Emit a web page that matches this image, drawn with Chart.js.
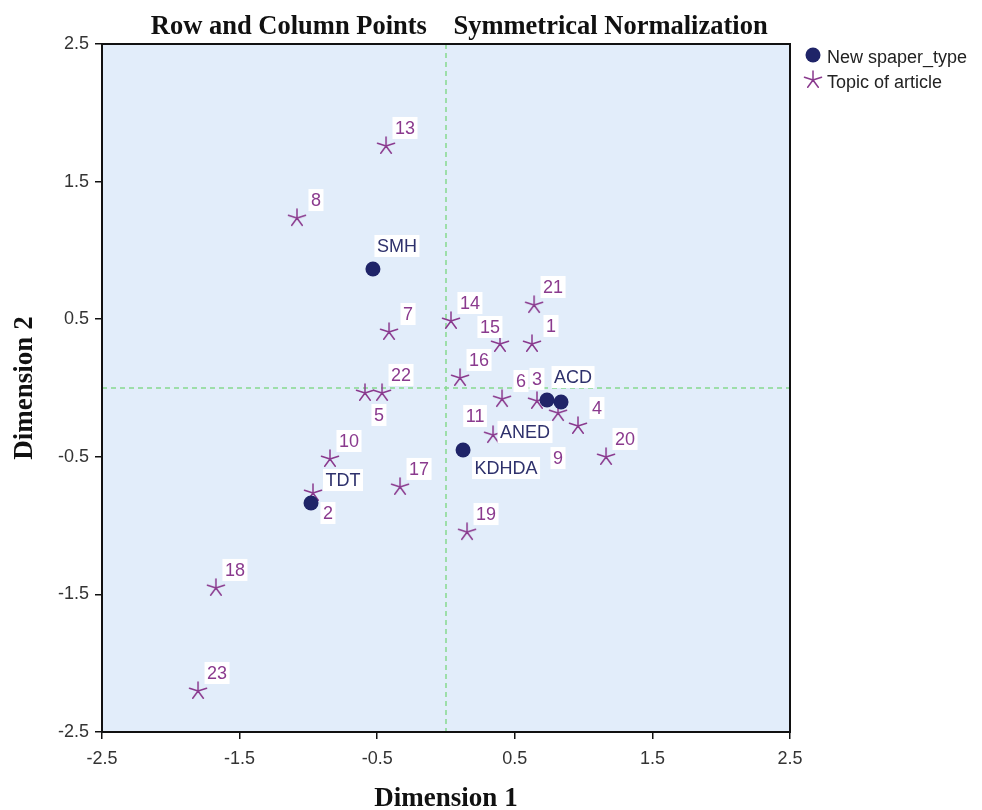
<!DOCTYPE html>
<html>
<head>
<meta charset="utf-8">
<script src="https://cdn.jsdelivr.net/npm/chart.js@4.4.1/dist/chart.umd.min.js"></script>
<style>
  html, body { margin: 0; padding: 0; background: #fff; }
  #wrap { width: 982px; height: 810px; }
</style>
</head>
<body>
<div id="wrap"><canvas id="plot" width="982" height="810"></canvas></div>
<script>
// axis ticks shared by both dimensions
const tickValues = [-2.5, -1.5, -0.5, 0.5, 1.5, 2.5];

// row points: newspaper type
const paperLabels = ['SMH', 'ACD', 'ANED', 'KDHDA', 'TDT'];
const paperDim1 = [-0.531, 0.836, 0.734, 0.124, -0.981];
const paperDim2 = [0.865, -0.102, -0.087, -0.451, -0.836];

// column points: topic of article
const topicLabels = ['1', '2', '3', '4', '5', '6', '7', '8', '9', '10', '11',
  '13', '14', '15', '16', '17', '18', '19', '20', '21', '22', '23'];
const topicDim1 = [0.625, -0.967, 0.661, 0.959, -0.589, 0.407, -0.414, -1.083, 0.814, -0.843, 0.342,
  -0.436, 0.036, 0.392, 0.102, -0.334, -1.672, 0.153, 1.163, 0.640, -0.465, -1.802];
const topicDim2 = [0.320, -0.763, -0.094, -0.276, -0.036, -0.080, 0.407, 1.235, -0.182, -0.516, -0.342,
  1.759, 0.487, 0.320, 0.073, -0.719, -1.453, -1.047, -0.501, 0.603, -0.036, -2.202];

const paperColor = '#1f2468';
const topicColor = '#8a3a8e';
const sansFont = '"Liberation Sans", Arial, sans-serif';
const serifFont = '"Liberation Serif", "Times New Roman", serif';

// label placement (centre of the tag relative to its point)
const labelOffsets = {
  default: [19, -18],
  SMH: [24, -23], ACD: [12, -25], ANED: [-22, 32], KDHDA: [43, 18], TDT: [32, -23],
  '15': [-10, -17], '3': [0, -22], '9': [0, 45], '11': [-18, -19], '5': [14, 22], '2': [15, 20],
};

function makeStar(size, color) {
  const c = document.createElement('canvas');
  c.width = size;
  c.height = size;
  const g = c.getContext('2d');
  const r = size / 2 - 1;
  g.strokeStyle = color;
  g.lineWidth = 1.5;
  g.lineCap = 'round';
  g.beginPath();
  for (let i = 0; i < 5; i++) {
    const a = -Math.PI / 2 + i * 2 * Math.PI / 5;
    g.moveTo(size / 2, size / 2);
    g.lineTo(size / 2 + r * Math.cos(a), size / 2 + r * Math.sin(a));
  }
  g.stroke();
  return c;
}

const starIcon = makeStar(20, topicColor);

const toPoints = (xs, ys) => xs.map((x, i) => ({ x, y: ys[i] }));

const plotDecor = {
  id: 'plotDecor',
  beforeDatasetsDraw(chart) {
    const { ctx, chartArea: a, scales } = chart;
    ctx.save();
    ctx.fillStyle = '#e2edfa';
    ctx.fillRect(a.left, a.top, a.right - a.left, a.bottom - a.top);

    // reference lines through the origin
    const x0 = scales.x.getPixelForValue(0);
    const y0 = scales.y.getPixelForValue(0);
    ctx.strokeStyle = '#86d98f';
    ctx.lineWidth = 1.5;
    ctx.setLineDash([5, 4]);
    ctx.beginPath();
    ctx.moveTo(x0, a.top);
    ctx.lineTo(x0, a.bottom);
    ctx.moveTo(a.left, y0);
    ctx.lineTo(a.right, y0);
    ctx.stroke();
    ctx.restore();
  },
  afterDatasetsDraw(chart) {
    const { ctx, chartArea: a } = chart;
    ctx.save();
    ctx.font = '18px ' + sansFont;
    ctx.textAlign = 'center';
    ctx.textBaseline = 'middle';
    chart.data.datasets.forEach((ds, di) => {
      const meta = chart.getDatasetMeta(di);
      meta.data.forEach((pt, i) => {
        const text = ds.pointLabels[i];
        const [dx, dy] = labelOffsets[text] || labelOffsets.default;
        const cx = pt.x + dx;
        const cy = pt.y + dy;
        const w = ctx.measureText(text).width + 5;
        ctx.fillStyle = '#ffffff';
        ctx.fillRect(cx - w / 2, cy - 11, w, 22);
        ctx.fillStyle = ds.labelColor;
        ctx.fillText(text, cx, cy + 1);
      });
    });

    // frame
    ctx.strokeStyle = '#111';
    ctx.lineWidth = 2;
    ctx.strokeRect(a.left, a.top, a.right - a.left, a.bottom - a.top);

    // legend
    const lx = a.right + 23;
    ctx.textAlign = 'left';
    ctx.fillStyle = paperColor;
    ctx.beginPath();
    ctx.arc(lx, 55, 7.5, 0, Math.PI * 2);
    ctx.fill();
    ctx.drawImage(starIcon, lx - 10, 70);
    ctx.fillStyle = '#222';
    ctx.fillText('New spaper_type', lx + 14, 58);
    ctx.fillText('Topic of article', lx + 14, 83);
    ctx.restore();
  },
};

const axisTicks = (scale) => {
  scale.ticks = tickValues.map((value) => ({ value }));
};

new Chart(document.getElementById('plot'), {
  type: 'scatter',
  data: {
    datasets: [
      {
        label: 'New spaper_type',
        data: toPoints(paperDim1, paperDim2),
        pointLabels: paperLabels,
        labelColor: '#2e316c',
        pointStyle: 'circle',
        pointRadius: 7.5,
        pointHoverRadius: 7.5,
        backgroundColor: paperColor,
        borderColor: paperColor,
        borderWidth: 0,
      },
      {
        label: 'Topic of article',
        data: toPoints(topicDim1, topicDim2),
        pointLabels: topicLabels,
        labelColor: topicColor,
        pointStyle: starIcon,
        pointRadius: 10,
        backgroundColor: topicColor,
        borderColor: topicColor,
      },
    ],
  },
  options: {
    responsive: false,
    animation: false,
    devicePixelRatio: 1,
    layout: { padding: { left: 0, right: 192, top: 0, bottom: 0 } },
    plugins: {
      legend: { display: false },
      tooltip: { enabled: false },
      title: {
        display: true,
        fullSize: false,
        text: '    Row and Column Points    Symmetrical Normalization',
        color: '#111',
        font: { family: serifFont, size: 26.5, weight: 'bold', lineHeight: 1.2 },
        padding: { top: 11, bottom: 1.2 },
      },
    },
    scales: {
      x: {
        type: 'linear',
        min: -2.5,
        max: 2.5,
        afterBuildTicks: axisTicks,
        afterFit: (s) => { s.height = 78; },
        grid: { drawOnChartArea: false, drawTicks: true, tickLength: 7, color: '#111', lineWidth: 1.5 },
        border: { display: false },
        ticks: {
          color: '#333',
          padding: 9,
          font: { family: sansFont, size: 18 },
          callback: (v) => v.toFixed(1),
        },
        title: {
          display: true,
          text: 'Dimension 1',
          color: '#111',
          font: { family: serifFont, size: 27, weight: 'bold', lineHeight: 0.8 },
          padding: { top: 2, bottom: 0 },
        },
      },
      y: {
        type: 'linear',
        min: -2.5,
        max: 2.5,
        afterBuildTicks: axisTicks,
        afterFit: (s) => { s.width = 102; },
        grid: { drawOnChartArea: false, drawTicks: true, tickLength: 7, color: '#111', lineWidth: 1.5 },
        border: { display: false },
        ticks: {
          color: '#333',
          padding: 6,
          font: { family: sansFont, size: 18 },
          callback: (v) => v.toFixed(1),
        },
        title: {
          display: true,
          text: 'Dimension 2',
          color: '#111',
          font: { family: serifFont, size: 27, weight: 'bold', lineHeight: 1 },
          padding: { top: 12, bottom: 0 },
        },
      },
    },
  },
  plugins: [plotDecor],
});
</script>
</body>
</html>
